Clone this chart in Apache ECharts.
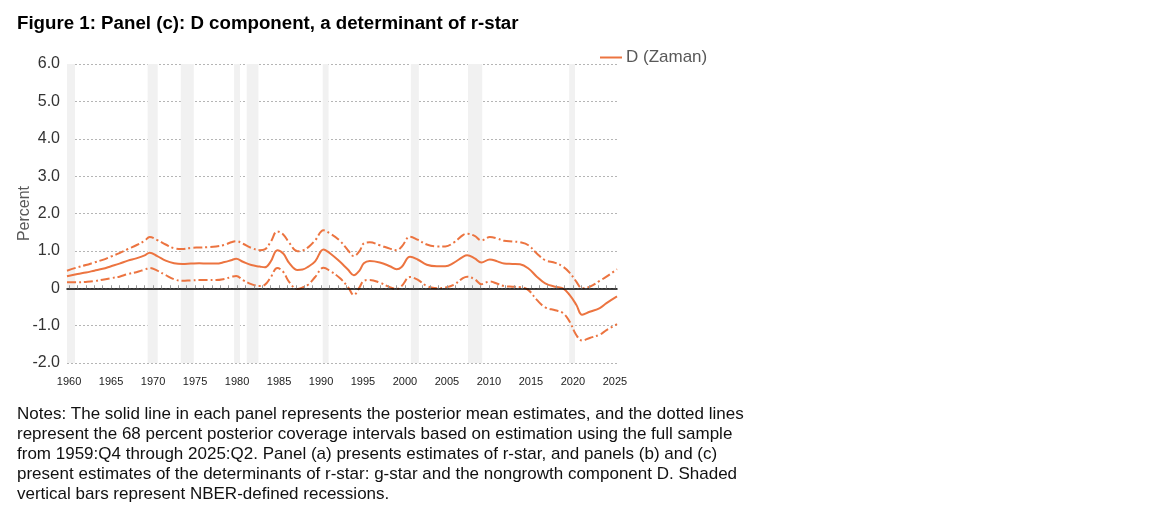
<!DOCTYPE html>
<html>
<head>
<meta charset="utf-8">
<script src="https://cdn.jsdelivr.net/npm/echarts@6/dist/echarts.min.js"></script>
<style>
html,body{margin:0;padding:0;background:#fff;}
#chart{width:1151px;height:518px;}
</style>
</head>
<body>
<div id="chart"></div>
<script>
// Sample dates (decimal years)
const dates = [1959.75,1961,1962,1963,1964,1965,1966,1967,1968,1969,1969.6,1970.5,1971.5,1972.5,1973.5,1974.5,
  1975.5,1976.5,1977.5,1978.5,1979.3,1979.9,1980.7,1981.7,1982.7,1983.3,1984.0,1984.8,1985.5,1986.2,1987.2,1987.8,
  1988.5,1989.3,1990.3,1991.1,1992.2,1993.2,1993.9,1994.6,1995.1,1995.8,1997.0,1998.2,1999.0,1999.6,2000.6,2001.5,
  2002.6,2003.8,2004.8,2005.8,2006.9,2007.4,2008.3,2009.1,2010.1,2011.0,2011.8,2012.8,2013.7,2014.7,2015.7,2016.7,
  2017.9,2018.8,2019.6,2020.4,2021.1,2022.0,2023.2,2024.0,2025.25];
const upperBand = [0.47,0.56,0.62,0.69,0.76,0.85,0.94,1.05,1.15,1.27,1.37,1.29,1.17,1.07,1.05,1.08,
  1.09,1.10,1.12,1.16,1.23,1.26,1.19,1.08,1.02,1.04,1.24,1.52,1.44,1.22,0.99,1.01,
  1.10,1.28,1.55,1.46,1.28,1.02,0.86,1.00,1.20,1.23,1.15,1.06,1.02,1.11,1.38,1.30,
  1.17,1.12,1.12,1.22,1.42,1.46,1.40,1.28,1.37,1.33,1.27,1.25,1.23,1.15,0.93,0.75,
  0.68,0.58,0.42,0.18,0.00,0.04,0.20,0.31,0.51];
const meanD = [0.32,0.38,0.42,0.47,0.52,0.59,0.66,0.74,0.80,0.88,0.95,0.86,0.74,0.67,0.65,0.66,
  0.67,0.66,0.66,0.70,0.75,0.79,0.71,0.62,0.58,0.56,0.71,1.02,0.93,0.68,0.49,0.50,
  0.58,0.72,1.04,0.93,0.72,0.50,0.35,0.48,0.67,0.73,0.69,0.59,0.51,0.57,0.84,0.77,
  0.63,0.59,0.59,0.68,0.84,0.88,0.80,0.69,0.77,0.72,0.66,0.65,0.64,0.53,0.31,0.13,
  0.04,0.00,-0.18,-0.44,-0.71,-0.63,-0.53,-0.40,-0.22];
const lowerBand = [0.16,0.16,0.17,0.19,0.23,0.27,0.31,0.38,0.43,0.50,0.54,0.47,0.35,0.24,0.20,0.21,
  0.22,0.22,0.22,0.25,0.30,0.33,0.22,0.11,0.06,0.09,0.29,0.54,0.44,0.17,-0.02,0.02,
  0.10,0.30,0.55,0.46,0.28,0.04,-0.18,0.03,0.20,0.22,0.15,0.03,-0.02,0.06,0.30,0.23,
  0.06,0.00,0.02,0.09,0.27,0.31,0.24,0.11,0.18,0.12,0.06,0.04,0.03,-0.05,-0.31,-0.51,
  -0.59,-0.66,-0.89,-1.25,-1.40,-1.33,-1.24,-1.12,-0.96];
// Shaded recession bars (start, end)
const recessions = [[1959.75,1960.7],[1969.35,1970.55],[1973.3,1974.85],[1979.65,1980.35],[1981.15,1982.55],
  [1990.2,1990.9],[2000.7,2001.65],[2007.5,2009.2],[2019.55,2020.25]];
const yearLabels = [1960,1965,1970,1975,1980,1985,1990,1995,2000,2005,2010,2015,2020,2025];
const yearTicks = [];
for (let y = 1960; y <= 2025; y++) yearTicks.push(y);
const seriesName = 'D (Zaman)';
const titleText = 'Figure 1: Panel (c): D component, a determinant of r-star';
const notesLines = [
  'Notes: The solid line in each panel represents the posterior mean estimates, and the dotted lines',
  'represent the 68 percent posterior coverage intervals based on estimation using the full sample',
  'from 1959:Q4 through 2025:Q2. Panel (a) presents estimates of r-star, and panels (b) and (c)',
  'present estimates of the determinants of r-star: g-star and the nongrowth component D. Shaded',
  'vertical bars represent NBER-defined recessions.'
];

const FONT = '"Liberation Sans", Arial, Helvetica, sans-serif';
const ORANGE = '#EC7440';
const pairs = arr => dates.map((d, i) => [d, arr[i]]);
const dashDot = [9, 3, 2, 3];

const chart = echarts.init(document.getElementById('chart'), null, {renderer: 'canvas'});
chart.setOption({
  backgroundColor: '#fff',
  animation: false,
  textStyle: {fontFamily: FONT},
  title: [
    {text: titleText, left: 17, top: 14, padding: 0,
     textStyle: {fontFamily: FONT, fontSize: 18.7, fontWeight: 'bold', color: '#000', lineHeight: 20}},
    {text: notesLines.join('\n'), left: 17, top: 404, padding: 0,
     textStyle: {fontFamily: FONT, fontSize: 17, fontWeight: 'normal', color: '#111', lineHeight: 20}}
  ],
  legend: {
    data: [seriesName], left: 600, top: 49, padding: 0,
    icon: 'rect', itemWidth: 22, itemHeight: 2, itemGap: 10,
    textStyle: {fontFamily: FONT, fontSize: 17, color: '#595959', padding: [0, 0, 0, -1]}
  },
  grid: {left: 67, right: 534, top: 64, bottom: 155, outerBoundsMode: 'none'},
  xAxis: [
    {type: 'value', min: 1959.75, max: 2025.25, position: 'bottom',
     axisLine: {show: false, onZero: false}, axisTick: {show: false}, splitLine: {show: false},
     axisLabel: {customValues: yearLabels, formatter: v => String(v), fontFamily: FONT,
       fontSize: 11, color: '#222', margin: 13}},
    {type: 'value', min: 1959.75, max: 2025.25, position: 'bottom', z: 10,
     axisLine: {show: true, onZero: true, lineStyle: {color: '#000', width: 1.5}},
     axisTick: {show: true, inside: true, length: 3, customValues: yearTicks, lineStyle: {color: '#999', width: 1}},
     axisLabel: {show: false}, splitLine: {show: false}}
  ],
  yAxis: {
    type: 'value', min: -2, max: 6, interval: 1,
    name: 'Percent', nameLocation: 'middle', nameGap: 34, nameRotate: 90, nameMoveOverlap: false,
    nameTextStyle: {fontFamily: FONT, fontSize: 16, color: '#595959'},
    axisLine: {show: false}, axisTick: {show: false},
    axisLabel: {formatter: v => (v === 0 ? '0' : v.toFixed(1)), fontFamily: FONT, fontSize: 16,
      color: '#333', margin: 7},
    splitLine: {show: true, lineStyle: {color: '#b5b5b5', type: [2, 2], width: 1}}
  },
  series: [
    {name: 'recessions', type: 'line', data: [], xAxisIndex: 0, silent: true, z: 1,
     markArea: {silent: true, itemStyle: {color: '#f1f1f1'},
       data: recessions.map(r => [{xAxis: r[0]}, {xAxis: r[1]}])}},
    {name: 'upper', type: 'line', data: pairs(upperBand), xAxisIndex: 0, smooth: 0.4, showSymbol: false, z: 3,
     lineStyle: {color: ORANGE, width: 2, type: dashDot}},
    {name: seriesName, type: 'line', data: pairs(meanD), xAxisIndex: 0, smooth: 0.4, showSymbol: false, z: 4,
     itemStyle: {color: ORANGE}, lineStyle: {color: ORANGE, width: 2}},
    {name: 'lower', type: 'line', data: pairs(lowerBand), xAxisIndex: 0, smooth: 0.4, showSymbol: false, z: 3,
     lineStyle: {color: ORANGE, width: 2, type: dashDot}}
  ]
});
</script>
</body>
</html>
